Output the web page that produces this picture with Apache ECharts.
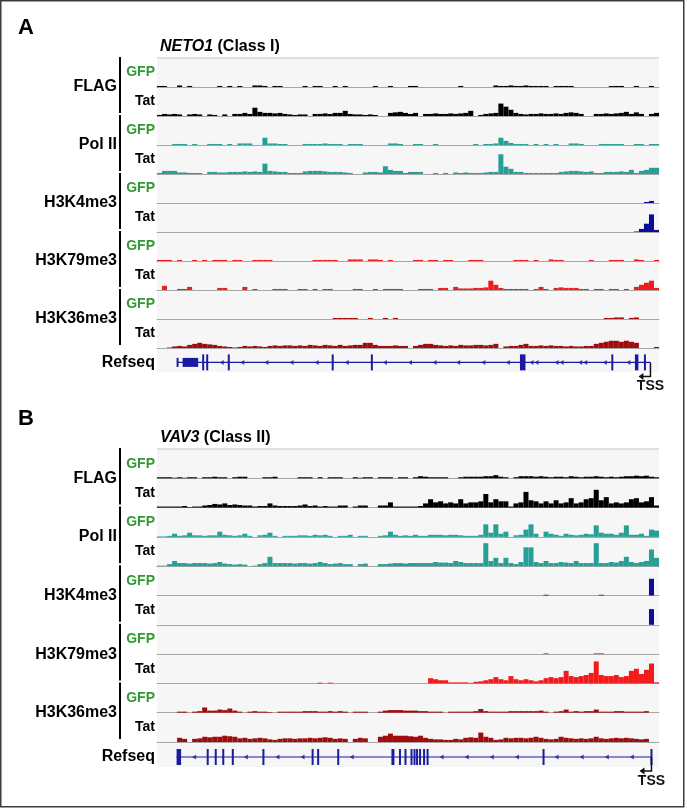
<!DOCTYPE html>
<html>
<head>
<meta charset="utf-8">
<script src="https://cdn.jsdelivr.net/npm/echarts/dist/echarts.min.js"></script>
<style>
html, body { margin: 0; padding: 0; background: #fff; }
#chart { width: 687px; height: 809px; }
</style>
</head>
<body>
<div id="chart"></div>
<script>
// read-coverage, 100 bins across each locus, values = bar height in px (track max 28)
var neto1FlagGfp = [
  1,1,0,0,1.5,0,1,0,0,0, 0,0,1,0,1,0,1,0,0,1.5, 1.5,1,0,1,1,0,0,0,0,1, 0,1,1,0,0,1,0,1,0,0,
  0,0,0,1,0,0,1,0,0,0, 1,1,0,0,0,0,0,0,0,0, 1,0,0,0,0,0,0,1.5,1,1, 1.5,1,1,1.5,1,1,1,1,0,1,
  1,1,1,0,0,0,0,0,0,0, 1,1,1,0,0,1,0,0,1,0];
var neto1FlagTat = [
  1,2,1.5,2,1.5,0,1.5,2,1.5,0, 1.5,1,0,1.5,0,2,2,3,2,8, 4,3,3,2.5,3,2,1.5,1,1.5,1.5, 0,2,2,2.5,2,3,3,5,2,1.5,
  1.5,1,1.5,1,0,0,3,3.5,4,3, 2,3,0,2,2,2.5,2,2,2.5,2, 2.5,3,5,0,1,2,2.5,3,12,9, 6,3,2,1.5,2,2,2.5,2,2,2.5,
  2,3,3.5,3,2,0,0,2,2,2.5, 2,2.5,3,4,2,3.5,2,0,2,3];
var neto1PolGfp = [
  0,0,0,1,1,1,0,1,0,0, 1,1,1,0,1,0,1.5,1.5,1.5,0, 0,7,1.5,1.5,1,1,0,0,0,1, 1,1,1,1.5,1,1,1,0,1,1,
  1,0,0,0,0,0,1.5,1.5,1,0, 0,1,1,0,0,1,0,0,0,0, 0,0,0,1,0,1,1,1.5,7,4, 2,1,1,1,0,1,0,1,0,1,
  0,0,1.5,1.5,1,0,0,0,1,1, 1,1,1,0,0,1,1,0,1,1];
var neto1PolTat = [
  1,3,3,3,1.5,1.5,1,1,1,0, 2,2,1.5,1.5,2,2,2,2.5,2,2.5, 2,10,3,2.5,2,2,1,1,1,2.5, 3,3,3,2.5,2,2,2,1.5,1,0,
  0,1.5,2,2,1.5,7.5,4,3,3,1, 2,2,2,0,0,1,0,1,0,1.5, 1,1.5,1,1,1,1.5,2,2,19,7, 5,2,2,1,1,1,1,1,1,1,
  2,2.5,3,3,2.5,2,2.5,1,1,2, 2,2,2.5,2,4,1,3,4,6,6];
var neto1K4Gfp = [
  0,0,0,0,0,0,0,0,0,0, 0,0,0,0,0,0,0,0,0,0, 0,0,0,0,0,0,0,0,0,0, 0,0,0,0,0,0,0,0,0,0,
  0,0,0,0,0,0,0,0,0,0, 0,0,0,0,0,0,0,0,0,0, 0,0,0,0,0,0,0,0,0,0, 0,0,0,0,0,0,0,0,0,0,
  0,0,0,0,0,0,0,0,0,0, 0,0,0,0,0,0,0,1,2,0];
var neto1K4Tat = [
  0,0,0,0,0,0,0,0,0,0, 0,0,0,0,0,0,0,0,0,0, 0,0,0,0,0,0,0,0,0,0, 0,0,0,0,0,0,0,0,0,0,
  0,0,0,0,0,0,0,0,0,0, 0,0,0,0,0,0,0,0,0,0, 0,0,0,0,0,0,0,0,0,0, 0,0,0,0,0,0,0,0,0,0,
  0,0,0,0,0,0,0,0,0,0, 0,0,0,0,0,0.5,3,8,17,2];
var neto1K79Gfp = [
  1,1,1,0,1,0,0,1,0,1, 0,1,1,1,0,1,1,0,0,1, 1,1,1,0,0,0,0,0,0,0, 0,1,1,1,1,1,0,0,1.5,1.5,
  1.5,0,1.5,1.5,1,0,1,0,0,0, 0,1,1,0,1,1,0,1,1,0, 0,0,1,1,1,0,0,0,0,0, 0,1,1,1,0,1,0,0,1.5,1,
  1,0,0,0,0,0,1,0,0,0, 1,1,1,0,0,1.5,1,0,0,1];
var neto1K79Tat = [
  0,4,0,0,1,1,3,0,0,0, 0,0,2,2,0,0,0,3,0,1, 0,0,0,1,1,1,0,0,1,1, 0,1,0,1,1,0,0,0,0,1,
  1,0,0,1,0,1,1,1,1,0, 0,0,1,1,1,0,2,2,0,3, 1.5,1.5,1.5,2,2,2.5,9,5,2,1, 1,1,1,1,0,1,3,1,0,2,
  2.5,2,2,2,1,1,0,1,1,0, 1,1,0,1,0,3,5,7,9,2];
var neto1K36Gfp = [
  0,0,0,0,0,0,0,0,0,0, 0,0,0,0,0,0,0,0,0,0, 0,0,0,0,0,0,0,0,0,0, 0,0,0,0,0,1,1,1,1,1,
  0,0,1,0,0,1,0,1,0,0, 0,0,0,0,0,0,0,0,0,0, 0,0,0,0,0,0,0,0,0,0, 0,0,0,0,0,0,0,0,0,0,
  0,0,0,0,0,0,0,0,0,1, 1,1.5,1.5,0,1,1.5,0,0,0,0];
var neto1K36Tat = [
  0,0,0.5,1.5,2,1.5,3,4,5,4, 3.5,3,2,1.5,1,0.5,1,2,1.5,2, 1.5,1,2,2.5,2,2.5,2.5,2,2.5,2, 3,2.5,2,3,2.5,2,3,2,2.5,3,
  3,5,5,3,2,2,2,2.5,2,2, 0,2,3,4,4,3,2.5,2,2.5,2, 3,2.5,2.5,3,3,2.5,3,4,0,1.5, 2,2,3,4,2,2,2.5,2,2.5,2,
  2,1.5,2,1.5,1.5,2,2,4,5,6, 7,7,6,7,6,5,0,0,0,1];

var vav3FlagGfp = [
  1,1,1,0.5,1,0.5,1,1,0,1, 1,1.5,1,1,0,1,1.5,1.5,0,0, 0,1,1,1.5,0,0,0,0,1,1, 1,0,1,0,1,1,1,0,0,1,
  0.5,1,1,0,1,1,1,0,1,1, 0,1,2,1.5,1,1,1,1,0,0, 1,1.5,1.5,1.5,1.5,2,2,3,1.5,1, 0,1,2,2,2,1.5,2,1.5,1,1.5,
  1.5,1,2,1.5,1,1.5,1.5,2,1.5,1, 1.5,1,1.5,2,2,2.5,2,2.5,1.5,1];
var vav3FlagTat = [
  1,1,1,1,1,1.5,0.5,1,1,2, 2.5,3.5,3,4,2.5,3,2.5,2,2,1, 1.5,1.5,4,2,1.5,1.5,1.5,1.5,2,3, 1.5,2,1,1.5,1,1,2,2,0,1,
  2,2,0,0,2,2,5,1,1,1, 1,1,1.5,4,8,5,6,4,5,4, 8,4,5,5,6,13,5,8,6,6, 1,4,5,15,7,6,4,6,4,7,
  4,5,9,4,5,8,9,17,7,10, 4,5,4,5,8,9,5,6,10,2];
var vav3PolGfp = [
  0.5,0.5,1,3,1,1.5,4,1.5,1.5,1, 1.5,1.5,5,2,1.5,1,1.5,3,1,0, 1.5,2,4,1,0,1,1,1,1.5,1.5, 1,2,1.5,2,1,0,1,1,2,0,
  1,1,0,0,1,1.5,5,2,1,1.5, 1,2,1,1,2,2,2,1.5,2,2, 1.5,1,1,1,2,12,4,12,3,5, 0,1.5,2,7,12,3,0,5,3,2,
  1,3,2,1.5,2,3,2.5,11,4,3, 3,2,4,11,2,2,3,1,7,6];
var vav3PolTat = [
  0.5,0.5,2,5,3,3,2.5,3,3,3, 2.5,3,4,2.5,2,1.5,2,1.5,0,0.5, 2,3,9,3,3,3,3,2.5,3,3, 2.5,3,4,3,2,2.5,3,2,2,0,
  2,2.5,0,0,2,2,2.5,3,3,2.5, 3,3,3,3,3,4,3.5,3.5,3,5, 4,3,3,3,3,22,5,8,3,8, 3,2,4,18,18,4,3,5,3,3,
  4,3.5,3,5,3,3,3,22,3,3, 4,3.5,5,9,4,3,4,5,16,8];
var vav3K4Gfp = [
  0,0,0,0,0,0,0,0,0,0, 0,0,0,0,0,0,0,0,0,0, 0,0,0,0,0,0,0,0,0,0, 0,0,0,0,0,0,0,0,0,0,
  0,0,0,0,0,0,0,0,0,0, 0,0,0,0,0,0,0,0,0,0, 0,0,0,0,0,0,0,0,0,0, 0,0,0,0,0,0,0,0.7,0,0,
  0,0,0,0,0,0,0,0,0.7,0, 0,0,0,0,0,0,0,0,16,0];
var vav3K4Tat = [
  0,0,0,0,0,0,0,0,0,0, 0,0,0,0,0,0,0,0,0,0, 0,0,0,0,0,0,0,0,0,0, 0,0,0,0,0,0,0,0,0,0,
  0,0,0,0,0,0,0,0,0,0, 0,0,0,0,0,0,0,0,0,0, 0,0,0,0,0,0,0,0,0,0, 0,0,0,0,0,0,0,0,0,0,
  0,0,0,0,0,0,0,0,0,0, 0,0,0,0,0,0,0,0,15,0];
var vav3K79Gfp = [
  0,0,0,0,0,0,0,0,0,0, 0,0,0,0,0,0,0,0,0,0, 0,0,0,0,0,0,0,0,0,0, 0,0,0,0,0,0,0,0,0,0,
  0,0,0,0,0,0,0,0,0,0, 0,0,0,0,0,0,0,0,0,0, 0,0,0,0,0,0,0,0,0,0, 0,0,0,0,0,0,0,0.7,0,0,
  0,0,0,0,0,0,0,0.7,0.7,0, 0,0,0,0,0,0,0,0,0,0];
var vav3K79Tat = [
  0,0,0,0,0,0,0,0,0,0, 0,0,0,0,0,0,0,0,0,0, 0,0,0,0,0,0,0,0,0,0, 0,0,0.7,0,0.7,0,0,0,0,0,
  0,0,0,0,0,0,0,0,0,0, 0,0,0,0,5,4,3,3,1,1, 1,1,0.5,1.5,2,3,4,6,4,3, 7,4,3,4,3,2,3,5,6,5,
  6,12,7,6,7,8,10,21,8,7, 7,8,6,7,12,14,9,13,19,1];
var vav3K36Gfp = [
  0,0,0,0,1,1,0,1,1.5,5, 2,2,3,2.5,4,2,1,0,1,1.5, 1,1,0.5,0,1,1,1,1,1,1.5, 1.5,1.5,1,1,1.5,1,1.5,1,0,1,
  1,1,0,0,1,2,2.5,2.5,2.5,2, 2,2,1.5,1.5,1,1,1,0,1,1, 1,1,1,1.5,3.5,1.5,1,1,1,1, 1.5,1.5,1.5,1.5,1.5,1.5,2,1,0,1,
  1.5,3,1,1.5,1,1.5,1.5,3,1,1, 1,1.5,1.5,1,1,1,1,1.5,0,0];
var vav3K36Tat = [
  0,0,0,0,4,3,0,3,3.5,5, 4.5,5,5,6,5.5,5,3.5,4,3,3.5, 4,3.5,2.5,2,3,3.5,3.5,3,3.5,3.5, 4,3.5,4,4.5,4,3,3.5,3,0,3,
  4,3.5,0,0,5,6,8,6,6,6, 5.5,5,6,4,3,2.5,2.5,2,2,3, 2.5,4,4.5,4,9,5,4,2,2.5,4, 3.5,4,4,3.5,4,5,4,3,2.5,3,
  5,4,3.5,3,3.5,3,3.5,5,3.5,3, 3.5,4,3.5,4,3.5,3,2.5,3,0,0];

// gene models on the same 0-100 locus scale: [start, end, coding(1)/utr(0)]
var neto1Span = [4.1, 98.3];
var neto1Exons = [[4.0,4.2,0],[5.1,8.2,0],[9.2,9.2,1],[10.0,10.0,1],[14.3,14.3,1],[35.0,35.0,1],
  [42.6,43.0,1],[72.3,73.4,1],[90.7,90.7,1],[95.2,95.9,1],[97.2,97.2,1]];
var neto1Strand = [12.9,17.0,21.8,26.8,31.8,37.8,45.4,50.4,55.3,60.0,65.0,69.9,74.6,75.6,79.6,80.6,84.3,85.3,89.2,93.9];
var neto1Tss = 98.3;

var vav3Span = [3.9, 98.5];
var vav3Exons = [[3.9,4.8,1],[10.1,10.1,1],[11.7,11.7,1],[13.2,13.2,1],[15.1,15.1,1],[21.2,21.2,1],
  [31.0,31.0,1],[32.1,32.1,1],[36.1,36.1,1],[46.7,47.3,1],[48.4,48.4,1],[49.5,49.5,1],[50.7,50.7,1],
  [51.3,51.3,1],[51.8,51.8,1],[52.4,52.4,1],[53.2,53.2,1],[53.9,53.9,1],[77.0,77.0,1],[98.5,98.5,1]];
var vav3Strand = [7.4,17.7,24.0,29.0,38.8,56.7,61.7,66.7,71.7,79.6,84.6,89.6,94.6];
var vav3Tss = 98.5;

var marks = ['FLAG', 'Pol II', 'H3K4me3', 'H3K79me3', 'H3K36me3'];
var conditions = ['GFP', 'Tat'];
var bins = [];
for (var b = 0; b < 100; b++) bins.push(b);

var FONT = '"Liberation Sans", Arial, Helvetica, sans-serif';
var markColors = ['#000000', '#26a096', '#0c0c96', '#f21a1a', '#a00c0c'];
var GENE = '#1b1ba0';
var LEFT = 157, WIDTH = 502;

var panels = [
  { letter: 'A', gene: 'NETO1', cls: ' (Class I)', top: 58, h: 29, refH: 24,
    tracks: [neto1FlagGfp, neto1FlagTat, neto1PolGfp, neto1PolTat, neto1K4Gfp, neto1K4Tat,
             neto1K79Gfp, neto1K79Tat, neto1K36Gfp, neto1K36Tat],
    span: neto1Span, exons: neto1Exons, strand: neto1Strand, tss: neto1Tss },
  { letter: 'B', gene: 'VAV3', cls: ' (Class II)', top: 449, h: 29.3, refH: 25,
    tracks: [vav3FlagGfp, vav3FlagTat, vav3PolGfp, vav3PolTat, vav3K4Gfp, vav3K4Tat,
             vav3K79Gfp, vav3K79Tat, vav3K36Gfp, vav3K36Tat],
    span: vav3Span, exons: vav3Exons, strand: vav3Strand, tss: vav3Tss }
];

function txt(text, x, y, size, color, align) {
  return {
    type: 'text', x: x, y: y, silent: true,
    style: { text: text, font: 'bold ' + size + 'px ' + FONT, fill: color,
      align: align, textAlign: align, verticalAlign: 'middle', textVerticalAlign: 'middle' }
  };
}

var grids = [], xAxes = [], yAxes = [], series = [], graphics = [];

graphics.push({ type: 'rect', silent: true, shape: { x: 0.75, y: 0.75, width: 683, height: 806 },
  style: { fill: 'none', stroke: '#3c3c3c', lineWidth: 1.5 } });

panels.forEach(function (p) {
  graphics.push(txt(p.letter, 18, p.top - 30, 22, '#000', 'left'));
  graphics.push({
    type: 'text', x: 160, y: p.top - 11.5, silent: true,
    style: {
      text: '{g|' + p.gene + '}{c|' + p.cls + '}',
      verticalAlign: 'middle', textVerticalAlign: 'middle',
      rich: {
        g: { fontStyle: 'italic', fontWeight: 'bold', fontSize: 16, fontFamily: FONT, fill: '#000' },
        c: { fontWeight: 'bold', fontSize: 16, fontFamily: FONT, fill: '#000' }
      }
    }
  });

  p.tracks.forEach(function (vals, k) {
    var gi = grids.length;
    grids.push({ left: LEFT, width: WIDTH, top: p.top + k * p.h, height: p.h,
      show: true, backgroundColor: '#f6f6f6', borderWidth: 0 });
    xAxes.push({ type: 'category', gridIndex: gi, data: bins, boundaryGap: true,
      axisLine: { show: true, lineStyle: { color: '#a6a6a6', width: 1 } },
      axisTick: { show: false }, axisLabel: { show: false }, splitLine: { show: false } });
    yAxes.push({ type: 'value', gridIndex: gi, min: 0, max: 28, show: false, splitLine: { show: false } });
    series.push({ type: 'bar', name: marks[k >> 1] + ' ' + conditions[k % 2],
      xAxisIndex: gi, yAxisIndex: gi, data: vals, barCategoryGap: '0%', silent: true,
      itemStyle: { color: markColors[k >> 1] } });

    var cy = p.top + k * p.h + p.h / 2;
    graphics.push(txt(conditions[k % 2], 155, cy, 14, k % 2 ? '#000' : '#339933', 'right'));
  });

  marks.forEach(function (m, g) {
    var gTop = p.top + 2 * g * p.h;
    graphics.push(txt(m, 117, gTop + p.h, 16, '#000', 'right'));
    graphics.push({ type: 'rect', silent: true,
      shape: { x: 119, y: gTop - 1, width: 2, height: 2 * p.h - 2 }, style: { fill: '#000' } });
  });

  graphics.push({ type: 'line', silent: true,
    shape: { x1: LEFT, y1: p.top, x2: LEFT + WIDTH, y2: p.top },
    style: { stroke: '#d6d6d6', lineWidth: 1.5 } });

  // Refseq track
  var ri = grids.length;
  var refTop = p.top + 10 * p.h;
  grids.push({ left: LEFT, width: WIDTH, top: refTop, height: p.refH,
    show: true, backgroundColor: '#f6f6f6', borderWidth: 0 });
  xAxes.push({ type: 'value', gridIndex: ri, min: 0, max: 100, show: false, splitLine: { show: false } });
  yAxes.push({ type: 'value', gridIndex: ri, min: -0.8, max: 1.2, show: false, splitLine: { show: false } });
  graphics.push(txt('Refseq', 155, refTop + p.refH * 0.6, 16, '#000', 'right'));

  series.push({ type: 'line', xAxisIndex: ri, yAxisIndex: ri, silent: true, symbol: 'none',
    data: [[p.span[0], 0], [p.span[1], 0]], lineStyle: { color: GENE, width: 1.2 } });
  series.push({ type: 'scatter', xAxisIndex: ri, yAxisIndex: ri, silent: true,
    data: p.strand.map(function (x) { return [x, 0]; }),
    symbol: 'triangle', symbolRotate: 90, symbolSize: [5, 4], itemStyle: { color: GENE } });
  series.push({ type: 'custom', xAxisIndex: ri, yAxisIndex: ri, silent: true, clip: false,
    data: p.exons,
    renderItem: function (params, api) {
      var s = api.coord([api.value(0), 0]);
      var e = api.coord([api.value(1), 0]);
      var w = Math.max(e[0] - s[0], 2);
      var hh = api.value(2) ? 16 : 9;
      return { type: 'rect', shape: { x: (s[0] + e[0]) / 2 - w / 2, y: s[1] - hh / 2, width: w, height: hh },
        style: { fill: GENE } };
    } });
  series.push({ type: 'custom', xAxisIndex: ri, yAxisIndex: ri, silent: true, clip: false,
    data: [[p.tss, 0]],
    renderItem: function (params, api) {
      var pt = api.coord([api.value(0), 0]);
      var x = pt[0], y = pt[1];
      return { type: 'group', children: [
        { type: 'polyline', shape: { points: [[x, y], [x, y + 14], [x - 8, y + 14]] },
          style: { stroke: '#111', lineWidth: 1.5, fill: null } },
        { type: 'polygon', shape: { points: [[x - 12, y + 14], [x - 7, y + 10.5], [x - 7, y + 17.5]] },
          style: { fill: '#111' } },
        { type: 'text', style: { text: 'TSS', x: x, y: y + 24, font: 'bold 14px ' + FONT, fill: '#111',
          align: 'center', verticalAlign: 'middle' } }
      ] };
    } });
});

var chart = echarts.init(document.getElementById('chart'), null, { renderer: 'canvas' });
chart.setOption({
  backgroundColor: '#ffffff',
  animation: false,
  grid: grids,
  xAxis: xAxes,
  yAxis: yAxes,
  series: series,
  graphic: { elements: graphics }
});
</script>
</body>
</html>
